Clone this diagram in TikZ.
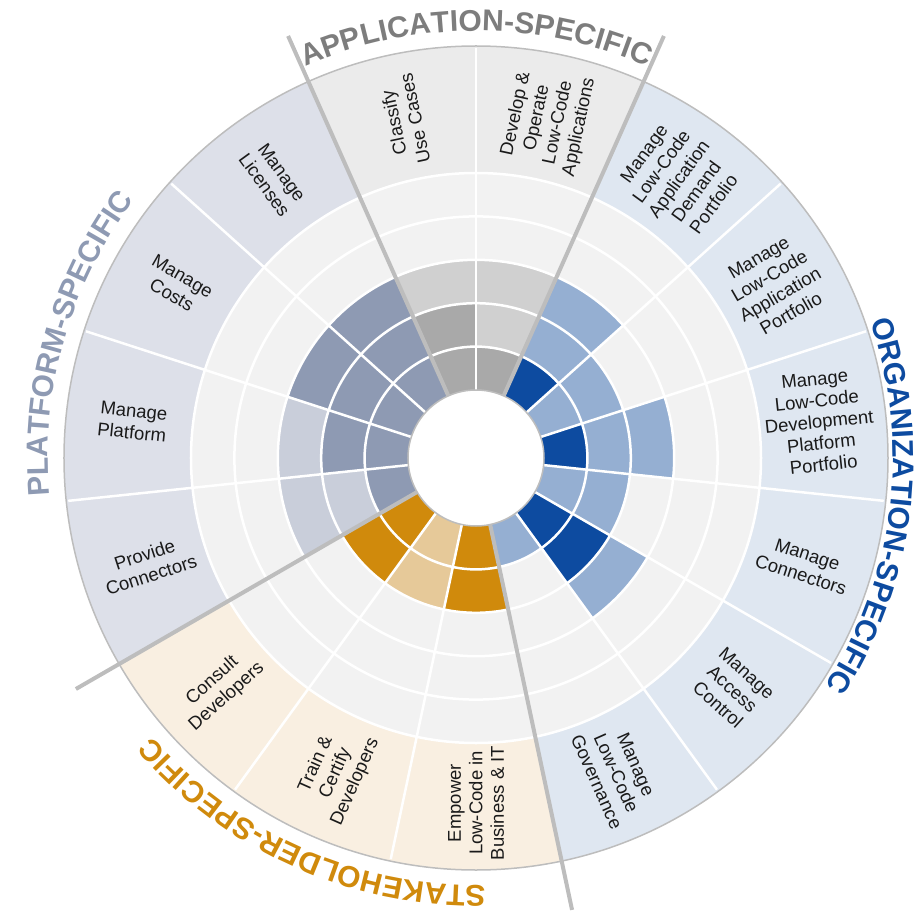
\documentclass[tikz,border=0pt]{standalone}
\usepackage{fontspec}
\setmainfont{Liberation Sans}
\usetikzlibrary{decorations.text}
\definecolor{cellbg}{HTML}{F2F2F2}
\definecolor{appD}{HTML}{A9A9A9}
\definecolor{appL}{HTML}{D0D0D0}
\definecolor{appB}{HTML}{EBEBEB}
\definecolor{appT}{HTML}{7D7D7D}
\definecolor{orgD}{HTML}{0D4BA0}
\definecolor{orgL}{HTML}{95AFD2}
\definecolor{orgB}{HTML}{DFE7F1}
\definecolor{stkD}{HTML}{D08A0C}
\definecolor{stkL}{HTML}{E6C999}
\definecolor{stkB}{HTML}{F9EFE1}
\definecolor{plaD}{HTML}{8E9AB3}
\definecolor{plaL}{HTML}{C9CEDA}
\definecolor{plaB}{HTML}{DDE0E9}
\definecolor{sepgray}{HTML}{BDBDBD}
\definecolor{txt}{HTML}{1A1A1A}
\newcommand\grptitlefont{\fontsize{30}{36}\selectfont\bfseries}
\begin{document}
\begin{tikzpicture}[x=1pt,y=1pt,
  lbl/.style={align=center, text=txt, font=\fontsize{18.5}{21.5}\selectfont, inner sep=0pt},
  gridline/.style={white, line width=2.5pt},
  groupline/.style={sepgray, line width=4pt},
  ]
\useasboundingbox (-476,-452) rectangle (439,458);
% label bands
\foreach \s/\e/\c in {66/114/appB, -78/66/orgB, -150/-78/stkB, 114/210/plaB}{
  \fill[\c] (\s:285) arc[start angle=\s, end angle=\e, radius=285] -- (\e:412) arc[start angle=\e, end angle=\s, radius=412] -- cycle;
}
% cell background
\fill[cellbg] (0,0) circle[radius=285];
% coloured cells
\foreach \a/\k/\c in {102/1/appD, 102/2/appD, 102/3/appL,
  78/1/appD, 78/2/appL, 78/3/appL,
  54/1/orgD, 54/2/orgL, 54/3/orgL,
  30/1/orgL, 30/2/orgL,
  6/1/orgD, 6/2/orgL, 6/3/orgL,
  -18/1/orgL, -18/2/orgL,
  -42/1/orgD, -42/2/orgD, -42/3/orgL,
  -66/1/orgL,
  -90/1/stkD, -90/2/stkD,
  -114/1/stkL, -114/2/stkL,
  -138/1/stkD, -138/2/stkD,
  198/1/plaD, 198/2/plaL, 198/3/plaL,
  174/1/plaD, 174/2/plaD, 174/3/plaL,
  150/1/plaD, 150/2/plaD, 150/3/plaD,
  126/1/plaD, 126/2/plaD, 126/3/plaD}{
  \pgfmathsetmacro\ri{68+43.4*(\k-1)}
  \pgfmathsetmacro\ro{68+43.4*\k}
  \fill[\c] ({\a-12}:\ri) arc[start angle={\a-12}, end angle={\a+12}, radius=\ri] -- ({\a+12}:\ro) arc[start angle={\a+12}, end angle={\a-12}, radius=\ro] -- cycle;
}
% white grid
\foreach \r in {111.4,154.8,198.2,241.6,285} \draw[gridline] (0,0) circle[radius=\r];
\foreach \i in {0,...,14} \draw[gridline] ({90+24*\i}:68) -- ({90+24*\i}:410);
% outer border
\draw[sepgray, line width=1.5pt] (0,0) circle[radius=412];
% group separators
\foreach \a in {114,66,-78,210} \draw[groupline] (\a:68) -- (\a:462);
% inner circle
\draw[sepgray, line width=1.5pt, fill=white] (0,0) circle[radius=68];
% labels
\node[lbl, rotate=102] (l1) at (102:345) {Classify\\Use Cases};
\node[lbl, rotate=78] (l2) at (78:345) {Develop \&\\Operate\\Low-Code\\Applications};
\node[lbl, rotate=54] (l3) at (54:345) {Manage\\Low-Code\\Application\\Demand\\Portfolio};
\node[lbl, rotate=30] (l4) at (30:345) {Manage\\Low-Code\\Application\\Portfolio};
\node[lbl, rotate=6] (l5) at (6:345) {Manage\\Low-Code\\Development\\Platform\\Portfolio};
\node[lbl, rotate=-18] (l6) at (-18:345) {Manage\\Connectors};
\node[lbl, rotate=-42] (l7) at (-42:345) {Manage\\Access\\Control};
\node[lbl, rotate=-66] (l8) at (-66:345) {Manage\\Low-Code\\Governance};
\node[lbl, rotate=90] (l9) at (-90:345) {Empower\\Low-Code in\\Business \& IT};
\node[lbl, rotate=66] (l10) at (-114:345) {Train \&\\Certify\\Developers};
\node[lbl, rotate=42] (l11) at (-138:345) {Consult\\Developers};
\node[lbl, rotate=18] (l12) at (-162:345) {Provide\\Connectors};
\node[lbl, rotate=-6] (l13) at (174:345) {Manage\\Platform};
\node[lbl, rotate=-30] (l14) at (150:345) {Manage\\Costs};
\node[lbl, rotate=-54] (l15) at (126:345) {Manage\\Licenses};
% group titles
\path[decorate, decoration={text along path, text={|\grptitlefont|APPLICATION-SPECIFIC}, text align=center, text color=appT}]
  (135:427) arc[start angle=135, end angle=45, radius=427];
\path[decorate, decoration={text along path, text={|\grptitlefont|ORGANIZATION-SPECIFIC}, text align=center, text color=orgD}]
  (38:417) arc[start angle=38, end angle=-52, radius=417];
\path[decorate, decoration={text along path, text={|\grptitlefont|STAKEHOLDER-SPECIFIC}, text align=center, text color=stkD}]
  (-69:427) arc[start angle=-69, end angle=-159, radius=427];
\path[decorate, decoration={text along path, text={|\grptitlefont|PLATFORM-SPECIFIC}, text align=center, text color=plaD}]
  (209:428) arc[start angle=209, end angle=119, radius=428];
\end{tikzpicture}
\end{document}
